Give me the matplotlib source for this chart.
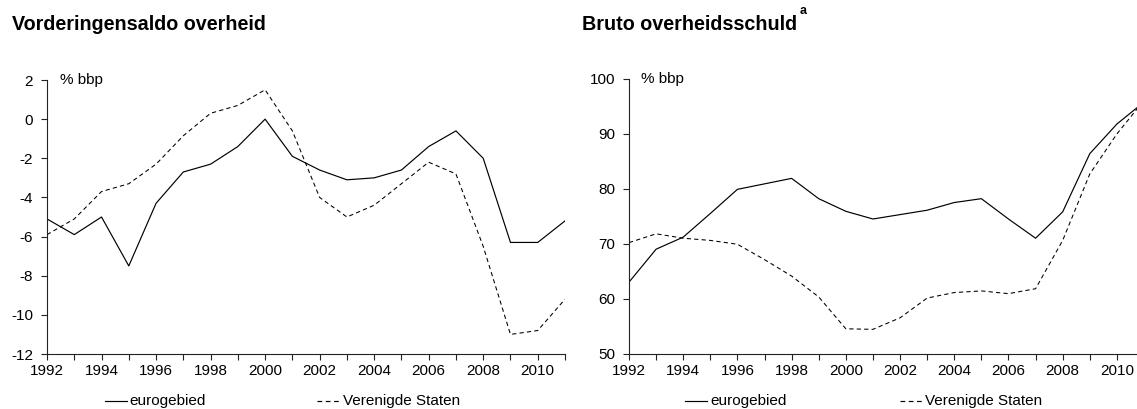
import matplotlib
matplotlib.use("Agg")
import matplotlib.pyplot as plt
from matplotlib.lines import Line2D

plt.rcParams['font.family'] = ['Liberation Sans', 'DejaVu Sans']

years = list(range(1992, 2012))

# Vorderingensaldo overheid (% bbp)
saldo_euro = [-5.1, -5.9, -5.0, -7.5, -4.3, -2.7, -2.3, -1.4, 0.0, -1.9,
              -2.6, -3.1, -3.0, -2.6, -1.4, -0.6, -2.0, -6.3, -6.3, -5.2]
saldo_vs = [-5.9, -5.1, -3.7, -3.3, -2.3, -0.85, 0.3, 0.7, 1.5, -0.6,
            -4.0, -5.0, -4.4, -3.3, -2.2, -2.8, -6.5, -11.0, -10.8, -9.2]

# Bruto overheidsschuld (% bbp)
schuld_euro = [63.0, 69.0, 71.2, 75.5, 79.9, 80.9, 81.9, 78.2, 75.9, 74.5,
               75.3, 76.1, 77.5, 78.2, 74.5, 71.0, 75.8, 86.4, 91.8, 95.8]
schuld_vs = [70.2, 71.8, 71.0, 70.6, 69.9, 67.1, 64.1, 60.3, 54.5, 54.4,
             56.5, 60.1, 61.1, 61.4, 60.9, 61.8, 70.6, 82.7, 90.0, 96.1]

titles = ["Vorderingensaldo overheid", "Bruto overheidsschuld"]
series_labels = ["eurogebied", "Verenigde Staten"]
unit_label = "% bbp"
xtick_labels = list(range(1992, 2011, 2))
left_yticks = list(range(-12, 3, 2))
right_yticks = list(range(50, 101, 10))

W, H = 1137, 409
fig = plt.figure(figsize=(W / 100, H / 100), dpi=100)

FS = 11.0
dash = (0, (4, 3))
lw = 0.85

def px(x0, y_top, x1, y_bot):
    return [x0 / W, 1 - y_bot / H, (x1 - x0) / W, (y_bot - y_top) / H]

axL = fig.add_axes(px(47, 80, 565, 354))
axR = fig.add_axes(px(629, 79, 1144, 353.5))

for ax, e, v, yt, yl in [(axL, saldo_euro, saldo_vs, left_yticks, (-12, 2)),
                         (axR, schuld_euro, schuld_vs, right_yticks, (50, 100))]:
    ax.plot(years, e, color='black', lw=lw)
    ax.plot(years, v, color='black', lw=lw * 0.9, linestyle=dash)
    ax.set_xlim(1992, 2011)
    ax.set_ylim(*yl)
    ax.set_yticks(yt)
    ax.set_yticklabels([str(t) for t in yt])
    ax.set_xticks(years)
    ax.set_xticklabels([str(y) if y in xtick_labels else "" for y in years])
    for s in ['top', 'right']:
        ax.spines[s].set_visible(False)
    for s in ['left', 'bottom']:
        ax.spines[s].set_linewidth(0.8)
        ax.spines[s].set_color('#222222')
    ax.tick_params(axis='x', direction='out', length=4.2, width=0.8, pad=3.2,
                   labelsize=FS, color='#222222')
    ax.tick_params(axis='y', direction='out', length=4.5, width=0.8, pad=5.5,
                   labelsize=FS, color='#222222')
    ax.patch.set_alpha(0)

axL.text(0.025, 1.0, unit_label, transform=axL.transAxes, fontsize=FS,
         va='center', ha='left')
axR.text(0.024, 1.0, unit_label, transform=axR.transAxes, fontsize=FS,
         va='center', ha='left')

# Titles
fig.text(12 / W, 1 - 25 / H, titles[0], fontsize=14.2, fontweight='bold',
         va='center', ha='left')
fig.text(582 / W, 1 - 25 / H, titles[1], fontsize=14.2, fontweight='bold',
         va='center', ha='left')
fig.text(800 / W, 1 - 11 / H, "a", fontsize=9, fontweight='bold',
         va='center', ha='left')

# Legends (figure-level, below each panel)
leg_y = 1 - 401 / H
def legend_item(x_line0, x_line1, x_text, label, ls):
    fig.add_artist(Line2D([x_line0 / W, x_line1 / W], [leg_y, leg_y],
                          color='black', lw=lw, linestyle=ls,
                          transform=fig.transFigure))
    fig.text(x_text / W, leg_y, label, fontsize=FS, va='center', ha='left')

legend_item(105, 127, 129, series_labels[0], '-')
legend_item(317, 339, 343, series_labels[1], dash)
legend_item(685, 707, 710, series_labels[0], '-')
legend_item(900, 922, 925, series_labels[1], dash)

fig.savefig("out.png", dpi=100)
